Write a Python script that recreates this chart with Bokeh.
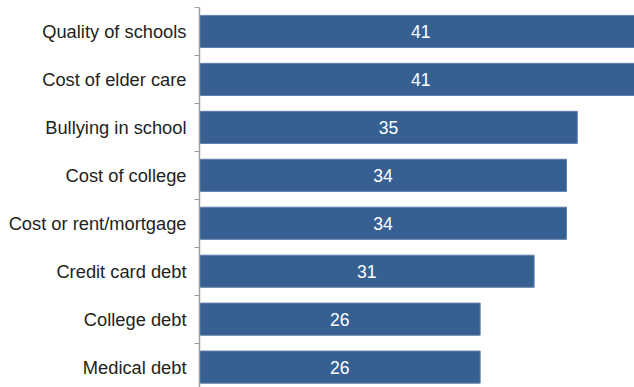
from bokeh.plotting import figure
from bokeh.models import Range1d, FixedTicker, ColumnDataSource
from bokeh.core.properties import value
from bokeh.embed import file_html
from bokeh.resources import INLINE

categories = ["Quality of schools", "Cost of elder care", "Bullying in school",
              "Cost of college", "Cost or rent/mortgage", "Credit card debt",
              "College debt", "Medical debt"]
values = [41, 41, 35, 34, 34, 31, 26, 26]

pos = list(range(len(categories)))
src = ColumnDataSource(dict(
    y=pos, v=values, mid=[v / 2 for v in values], lab=[str(v) for v in values]))

p = figure(width=634, height=387, output_backend="svg", toolbar_location=None,
           x_range=Range1d(0, 40.3), y_range=Range1d(7.425, -0.5),
           min_border_left=199, min_border_right=0, min_border_top=7, min_border_bottom=0)
p.outline_line_color = None
p.xgrid.visible = False
p.ygrid.visible = False
p.xaxis.visible = False

p.hbar(y="y", right="v", left=0, height=0.67, source=src,
       fill_color="#366092", line_color="#5e80aa", line_width=1)
p.text(x="mid", y="y", text="lab", source=src, text_align="center",
       text_baseline="middle", text_color="white", text_font=value("Liberation Sans"),
       text_font_size="17.5px")

ax = p.yaxis[0]
ax.ticker = FixedTicker(ticks=pos, minor_ticks=[i - 0.5 for i in range(len(categories) + 1)])
ax.major_label_overrides = {i: c for i, c in enumerate(categories)}
ax.major_tick_line_color = None
ax.major_tick_out = 0
ax.major_tick_in = 0
ax.minor_tick_in = 0
ax.minor_tick_out = 5
ax.minor_tick_line_color = "#a0a0a0"
ax.axis_line_color = "#a0a0a0"
ax.axis_line_width = 1.5
ax.major_label_standoff = 8
ax.major_label_text_font = "Liberation Sans"
ax.major_label_text_font_size = "18.3px"
ax.major_label_text_color = "#231f20"

open("out.html", "w").write(file_html(p, INLINE))
